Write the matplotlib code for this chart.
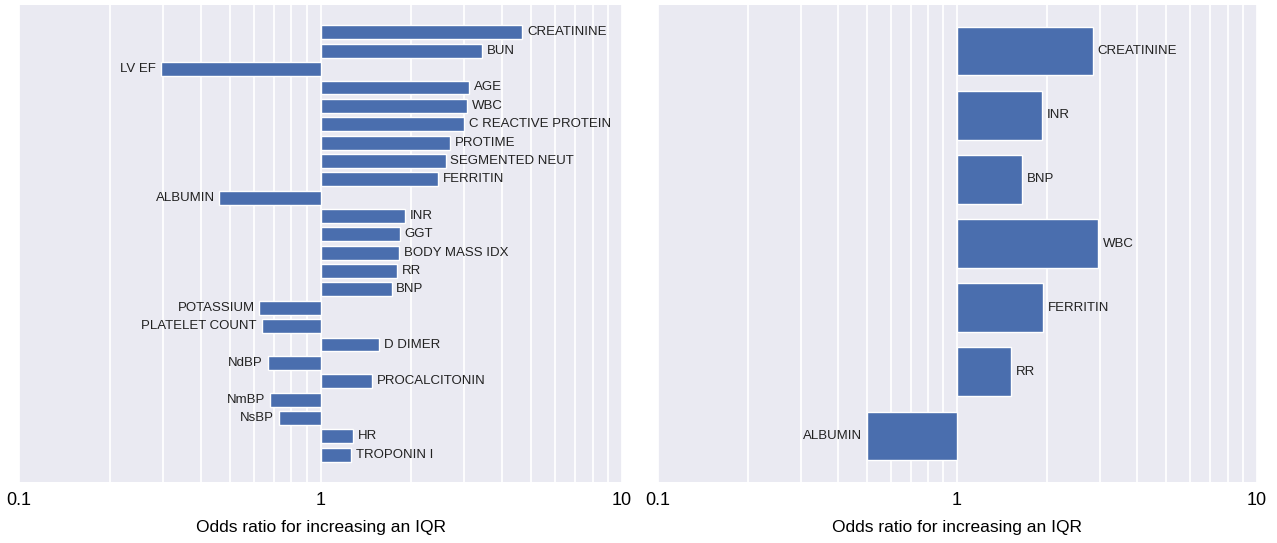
import matplotlib.pyplot as plt
from matplotlib.ticker import LogLocator, NullFormatter, FixedLocator, FixedFormatter

plt.rcParams['font.family'] = ['Liberation Sans', 'DejaVu Sans']

# Left panel: all variables
left_names = ['CREATININE', 'BUN', 'LV EF', 'AGE', 'WBC', 'C REACTIVE PROTEIN',
              'PROTIME', 'SEGMENTED NEUT', 'FERRITIN', 'ALBUMIN', 'INR', 'GGT',
              'BODY MASS IDX', 'RR', 'BNP', 'POTASSIUM', 'PLATELET COUNT',
              'D DIMER', 'NdBP', 'PROCALCITONIN', 'NmBP', 'NsBP', 'HR', 'TROPONIN I']
left_or = [4.67, 3.43, 0.295, 3.10, 3.07, 3.00, 2.69, 2.60, 2.46, 0.462, 1.90, 1.83,
           1.82, 1.80, 1.72, 0.627, 0.638, 1.56, 0.669, 1.48, 0.682, 0.726, 1.28, 1.26]

# Right panel: selected variables
right_names = ['CREATININE', 'INR', 'BNP', 'WBC', 'FERRITIN', 'RR', 'ALBUMIN']
right_or = [2.84, 1.92, 1.65, 2.95, 1.93, 1.51, 0.50]

bar_color = '#4a6eae'
bg = '#eaeaf2'

fig = plt.figure(figsize=(12.77, 5.43), dpi=100)
ax1 = fig.add_axes([0.015, 0.112, 0.472, 0.879])
ax2 = fig.add_axes([0.515, 0.112, 0.469, 0.879])


def draw(ax, names, vals, pad):
    ax.set_facecolor(bg)
    ax.set_xscale('log')
    ax.set_xlim(0.1, 10)
    ys = list(range(len(names)))
    widths = [v - 1 for v in vals]
    ax.barh(ys, widths, left=1, height=0.76, color=bar_color,
            edgecolor='white', linewidth=1.0, zorder=3)
    for y, v, n in zip(ys, vals, names):
        if v >= 1:
            ax.annotate(n, (v, y), xytext=(3.5, 0), textcoords='offset points',
                        ha='left', va='center', fontsize=9.5, color='#222222')
        else:
            ax.annotate(n, (v, y), xytext=(-3.5, 0), textcoords='offset points',
                        ha='right', va='center', fontsize=9.5, color='#222222')
    ax.set_ylim(len(names) - 1 + pad, -pad)
    ax.set_yticks([])
    ax.xaxis.set_major_locator(FixedLocator([0.1, 1, 10]))
    ax.xaxis.set_major_formatter(FixedFormatter(['0.1', '1', '10']))
    ax.xaxis.set_minor_locator(LogLocator(base=10, subs=range(2, 10)))
    ax.xaxis.set_minor_formatter(NullFormatter())
    ax.grid(True, which='both', axis='x', color='white', linewidth=1.3, zorder=0)
    ax.set_axisbelow(True)
    ax.tick_params(axis='x', which='both', length=0, labelsize=13, pad=7)
    for s in ax.spines.values():
        s.set_visible(False)
    ax.set_xlabel('Odds ratio for increasing an IQR', fontsize=12.5, labelpad=8)


draw(ax1, left_names, left_or, 1.5)
draw(ax2, right_names, right_or, 0.72)

fig.savefig('out.png', dpi=100, facecolor='white')
